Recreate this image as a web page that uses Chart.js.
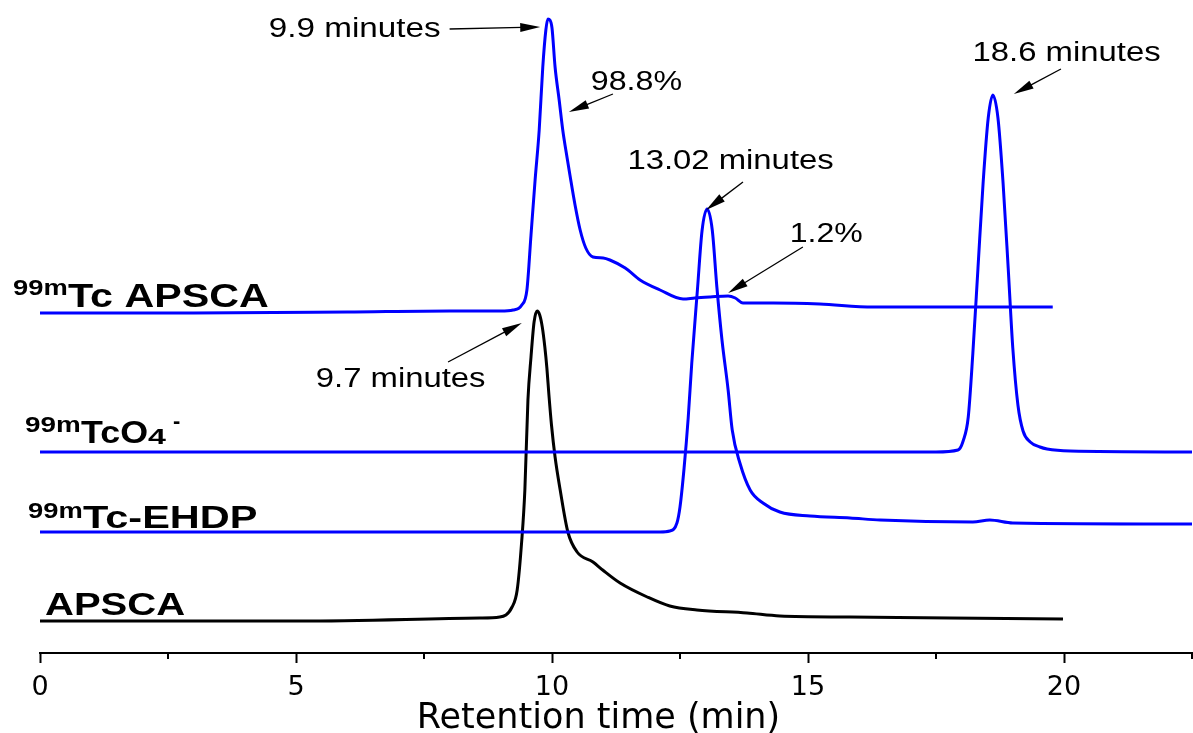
<!DOCTYPE html>
<html>
<head>
<meta charset="utf-8">
<script src="https://cdn.jsdelivr.net/npm/chart.js@4.4.1/dist/chart.umd.min.js"></script>
<style>
  html, body { margin: 0; padding: 0; background: #ffffff; }
  #wrap { position: relative; width: 1193px; height: 733px; }
</style>
</head>
<body>
<div id="wrap"><canvas id="c"></canvas></div>
<script>
// ---------------- DATA (stacked chromatograms, arbitrary signal units) ----------------
const tcApscaTime   = [0, 3.0, 6.0, 8.0, 9.0, 9.24, 9.41, 9.51, 9.59, 9.67, 9.75, 9.82, 9.88, 9.92, 9.96, 10.0, 10.06, 10.14, 10.21, 10.27, 10.35, 10.45, 10.55, 10.66, 10.80, 11.0, 11.13, 11.43, 11.72, 12.11, 12.56, 12.79, 13.09, 13.44, 13.58, 13.73, 14.32, 15.23, 16.27, 18.22, 19.78];
const tcApscaSignal = [340, 340, 341, 342, 342, 343, 348, 363, 418, 473, 523, 586, 623, 634, 633, 625, 586, 553, 523, 503, 478, 448, 423, 405, 396, 395, 393, 385, 373, 363, 354, 355, 356, 357, 355, 350, 350, 349, 346, 346, 346];

const tcO4Time   = [0, 5.0, 10.0, 15.0, 17.5, 17.93, 18.03, 18.13, 18.22, 18.32, 18.42, 18.52, 18.61, 18.71, 18.81, 18.91, 19.00, 19.10, 19.20, 19.34, 19.53, 19.67, 20.12, 22.5];
const tcO4Signal = [201, 201, 201, 201, 201, 203, 212, 236, 300, 385, 470, 535, 558, 535, 470, 385, 305, 248, 222, 211, 206, 204, 202, 201];

const ehdpTime   = [0, 5.0, 10.0, 12.11, 12.30, 12.44, 12.50, 12.58, 12.66, 12.73, 12.84, 12.93, 13.03, 13.13, 13.22, 13.32, 13.44, 13.52, 13.67, 13.87, 14.12, 14.45, 15.04, 15.82, 16.41, 18.22, 18.55, 19.00, 22.5];
const ehdpSignal = [121, 121, 121, 121, 122, 130, 146, 185, 235, 290, 363, 422, 444, 423, 366, 313, 263, 223, 190, 163, 150, 141, 137, 135, 133, 131, 133, 130, 129];

const apscaTime   = [0, 5.08, 8.59, 8.98, 9.22, 9.32, 9.41, 9.47, 9.53, 9.59, 9.65, 9.71, 9.76, 9.81, 9.86, 9.90, 9.94, 9.99, 10.06, 10.16, 10.31, 10.49, 10.80, 10.99, 11.33, 11.86, 12.30, 12.83, 13.81, 14.45, 15.82, 17.77, 19.98];
const apscaSignal = [32, 32, 35, 36, 46, 63, 113, 163, 253, 296, 331, 342, 338, 326, 306, 285, 258, 228, 196, 163, 121, 101, 91, 83, 70, 56, 47, 43, 40, 37, 36, 35, 34];

const majorTicks = [0, 5, 10, 15, 20];
const minorTicks = [2.5, 7.5, 12.5, 17.5, 22.5];
const xAxisTitle = 'Retention time (min)';

// ---------------- ANNOTATIONS (in data coordinates) ----------------
// trace names: runs of text, ink box from x0 to x1 (minutes), baseline y (signal units)
const traceNameRuns = [
  { text: '99m',      x0: -0.527, x1: 0.527, y: 358, size: 22 },
  { text: 'Tc APSCA', x0: 0.547,  x1: 4.453, y: 346, size: 34 },
  { text: '99m',      x0: -0.293, x1: 0.781, y: 221, size: 22 },
  { text: 'TcO',      x0: 0.801,  x1: 2.090, y: 210, size: 32 },
  { text: '4',        x0: 2.109,  x1: 2.480, y: 209, size: 22 },
  { text: '-',        x0: 2.598,  x1: 2.734, y: 225, size: 22 },
  { text: '99m',      x0: -0.234, x1: 0.820, y: 135, size: 22 },
  { text: 'Tc-EHDP',  x0: 0.840,  x1: 4.238, y: 125, size: 32 },
  { text: 'APSCA',    x0: 0.098,  x1: 2.832, y: 38,  size: 32 }
];
const peakNotes = [
  { text: '9.9 minutes',   x0: 4.492,  x1: 7.813,  y: 616, from: [8.00, 624],  to: [9.77, 626] },
  { text: '98.8%',         x0: 10.78,  x1: 12.54,  y: 563, from: [11.19, 559], to: [10.33, 541] },
  { text: '13.02 minutes', x0: 11.52,  x1: 15.49,  y: 484, from: [13.73, 471], to: [13.01, 443] },
  { text: '1.2%',          x0: 14.69,  x1: 16.07,  y: 411, from: [14.90, 406], to: [13.44, 360] },
  { text: '18.6 minutes',  x0: 18.26,  x1: 21.875, y: 592, from: [19.94, 584], to: [19.02, 559] },
  { text: '9.7 minutes',   x0: 5.41,   x1: 8.69,   y: 266, from: [7.97, 291],  to: [9.41, 330] }
];

const toPoints = (xs, ys) => xs.map((x, i) => ({ x: x, y: ys[i] }));

function drawFitText(ctx, chart, run, font) {
  const xs = chart.scales.x, ys = chart.scales.y;
  const p0 = xs.getPixelForValue(run.x0), p1 = xs.getPixelForValue(run.x1);
  const py = ys.getPixelForValue(run.y);
  ctx.font = font;
  ctx.textAlign = 'left';
  ctx.textBaseline = 'alphabetic';
  const m = ctx.measureText(run.text);
  const ink = (m.actualBoundingBoxLeft + m.actualBoundingBoxRight) || m.width;
  const sx = (p1 - p0) / ink;
  ctx.save();
  ctx.translate(p0 + m.actualBoundingBoxLeft * sx, py);
  ctx.scale(sx, 1);
  ctx.fillText(run.text, 0, 0);
  ctx.restore();
}

function drawArrow(ctx, chart, a) {
  const xs = chart.scales.x, ys = chart.scales.y;
  const x0 = xs.getPixelForValue(a.from[0]), y0 = ys.getPixelForValue(a.from[1]);
  const x1 = xs.getPixelForValue(a.to[0]),   y1 = ys.getPixelForValue(a.to[1]);
  const ang = Math.atan2(y1 - y0, x1 - x0);
  const L = 20, W = 4.5;
  const c = Math.cos(ang), s = Math.sin(ang);
  const bx = x1 - L * c, by = y1 - L * s;
  ctx.save();
  ctx.strokeStyle = '#000'; ctx.fillStyle = '#000'; ctx.lineWidth = 1.3;
  ctx.beginPath(); ctx.moveTo(x0, y0); ctx.lineTo(bx + 2 * c, by + 2 * s); ctx.stroke();
  ctx.beginPath();
  ctx.moveTo(x1, y1);
  ctx.lineTo(bx - W * s, by + W * c);
  ctx.lineTo(bx + W * s, by - W * c);
  ctx.closePath(); ctx.fill();
  ctx.restore();
}

const annotationPlugin = {
  id: 'chromAnnotations',
  afterDraw(chart) {
    const ctx = chart.ctx;
    const xs = chart.scales.x;
    const bottom = chart.chartArea.bottom;
    ctx.save();
    // minor ticks
    ctx.strokeStyle = '#000'; ctx.lineWidth = 2;
    minorTicks.forEach(v => {
      const px = Math.round(xs.getPixelForValue(v));
      ctx.beginPath(); ctx.moveTo(px, bottom); ctx.lineTo(px, bottom + 6); ctx.stroke();
    });
    ctx.fillStyle = '#000';
    traceNameRuns.forEach(r => drawFitText(ctx, chart, r, 'bold ' + r.size + 'px "Liberation Sans", Arial, sans-serif'));
    peakNotes.forEach(n => {
      drawFitText(ctx, chart, n, '27px "Liberation Sans", Arial, sans-serif');
      drawArrow(ctx, chart, n);
    });
    ctx.restore();
  }
};

const lineStyle = { borderWidth: 3, pointRadius: 0, fill: false, cubicInterpolationMode: 'monotone' };

new Chart(document.getElementById('c'), {
  type: 'line',
  data: {
    datasets: [
      Object.assign({ label: '99mTc APSCA', data: toPoints(tcApscaTime, tcApscaSignal), borderColor: '#0000ff' }, lineStyle),
      Object.assign({ label: '99mTcO4-',   data: toPoints(tcO4Time, tcO4Signal),       borderColor: '#0000ff' }, lineStyle),
      Object.assign({ label: '99mTc-EHDP', data: toPoints(ehdpTime, ehdpSignal),       borderColor: '#0000ff' }, lineStyle),
      Object.assign({ label: 'APSCA',      data: toPoints(apscaTime, apscaSignal),     borderColor: '#000000' }, lineStyle)
    ]
  },
  options: {
    responsive: true,
    maintainAspectRatio: false,
    animation: false,
    layout: { padding: { left: 40, right: 1, top: 0, bottom: 0 } },
    plugins: { legend: { display: false }, tooltip: { enabled: false }, title: { display: false } },
    scales: {
      x: {
        type: 'linear', min: 0, max: 22.5,
        afterBuildTicks: (scale) => { scale.ticks = majorTicks.map(v => ({ value: v })); },
        ticks: {
          color: '#000', padding: 11, maxRotation: 0, autoSkip: false,
          font: { family: '"DejaVu Sans", sans-serif', size: 27, lineHeight: 1 },
          callback: (v) => String(v)
        },
        grid: { display: true, drawOnChartArea: false, drawTicks: true, tickLength: 10, tickWidth: 2, tickColor: '#000' },
        border: { display: true, color: '#000', width: 2 },
        title: {
          display: true, text: xAxisTitle + '\u2003', color: '#000',
          font: { family: '"DejaVu Sans", sans-serif', size: 35, lineHeight: 0.4 },
          padding: { top: 0, bottom: 7 }
        }
      },
      y: { display: false, min: 0, max: 653 }
    }
  },
  plugins: [annotationPlugin]
});
</script>
</body>
</html>
